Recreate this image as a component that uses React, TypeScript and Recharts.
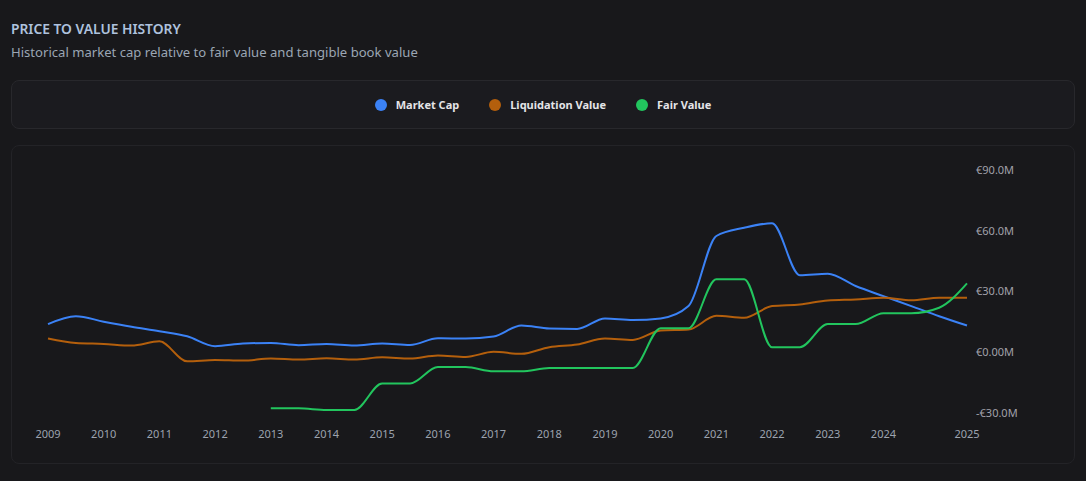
import { LineChart, Line, XAxis, YAxis } from "recharts";

// half-year periods, 2009 to 2025
const periods = [
  "H1 2009", "H2 2009", "H1 2010", "H2 2010", "H1 2011", "H2 2011",
  "H1 2012", "H2 2012", "H1 2013", "H2 2013", "H1 2014", "H2 2014",
  "H1 2015", "H2 2015", "H1 2016", "H2 2016", "H1 2017", "H2 2017",
  "H1 2018", "H2 2018", "H1 2019", "H2 2019", "H1 2020", "H2 2020",
  "H1 2021", "H2 2021", "H1 2022", "H2 2022", "H1 2023", "H2 2023",
  "H1 2024", "H2 2024", "H1 2025", "H2 2025",
];

const xTicks = [
  "H1 2009", "H1 2010", "H1 2011", "H1 2012", "H1 2013", "H1 2014",
  "H1 2015", "H1 2016", "H1 2017", "H1 2018", "H1 2019", "H1 2020",
  "H1 2021", "H1 2022", "H1 2023", "H1 2024", "H2 2025",
];
const xTickLabels = [
  "2009", "2010", "2011", "2012", "2013", "2014", "2015", "2016", "2017",
  "2018", "2019", "2020", "2021", "2022", "2023", "2024", "2025",
];

// values in € millions
const marketCap = [
  13.9, 17.8, 15.1, 12.6, 10.4, 7.9, 3.0, 4.3, 4.6, 3.5, 4.1, 3.3,
  4.3, 3.6, 6.9, 6.8, 7.8, 13.2, 11.7, 11.5, 16.7, 15.9, 16.7, 22.8,
  57.4, 61.5, 63.7, 38.0, 38.8, 32.7, 27.7, 22.8, 17.8, 13.2,
];
const liquidationValue = [
  6.8, 4.6, 4.1, 3.3, 5.4, -4.5, -3.8, -4.1, -3.1, -3.6, -3.0, -3.6,
  -2.5, -3.1, -1.6, -2.3, 0.2, -0.8, 2.5, 3.8, 6.8, 6.1, 10.7, 11.2,
  18.0, 17.0, 22.8, 23.6, 25.6, 26.1, 26.9, 25.7, 26.9, 26.9,
];
const fairValue = [
  null, null, null, null, null, null, null, null, -27.7, -27.7, -28.5, -28.5,
  -15.4, -15.4, -7.3, -7.3, -9.4, -9.4, -7.8, -7.8, -7.8, -7.8, 11.9, 11.9,
  36.0, 36.0, 2.5, 2.5, 13.9, 13.9, 19.3, 19.3, 22.0, 34.0,
];

const yTicks = [-30, 0, 30, 60, 90];

const series = [
  { key: "marketCap", name: "Market Cap", color: "#3b82f6" },
  { key: "liquidationValue", name: "Liquidation Value", color: "#b45f0c" },
  { key: "fairValue", name: "Fair Value", color: "#22c55e" },
];

const data = periods.map((period, i) => ({
  period,
  marketCap: marketCap[i],
  liquidationValue: liquidationValue[i],
  fairValue: fairValue[i],
}));

const formatEuro = (v: number) => {
  const s = v === 0 ? "0.00" : Math.abs(v).toFixed(1);
  return `${v < 0 ? "-" : ""}€${s}M`;
};

const font = "'Segoe UI', 'Noto Sans', 'Open Sans', sans-serif";

export default function App() {
  return (
    <div
      style={{
        position: "fixed",
        inset: 0,
        width: 1086,
        height: 481,
        background: "#18181b",
        fontFamily: font,
      }}
    >
      <div
        style={{
          position: "absolute",
          left: 11,
          top: 19,
          fontSize: 13.8,
          fontWeight: 600,
          color: "#aec2de",
        }}
      >
        PRICE TO VALUE HISTORY
      </div>
      <div
        style={{
          position: "absolute",
          left: 11,
          top: 43,
          fontSize: 13.1,
          color: "#9ba6b4",
        }}
      >
        Historical market cap relative to fair value and tangible book value
      </div>

      <div
        style={{
          position: "absolute",
          left: 11,
          top: 80,
          width: 1062,
          height: 47,
          border: "1px solid #28282c",
          borderRadius: 8,
          background: "#1b1b1f",
          display: "flex",
          justifyContent: "center",
          alignItems: "center",
          gap: 30,
        }}
      >
        {series.map((s) => (
          <div key={s.key} style={{ display: "flex", alignItems: "center" }}>
            <span
              style={{
                width: 12,
                height: 12,
                borderRadius: 6,
                background: s.color,
                marginRight: 9,
              }}
            />
            <span style={{ fontSize: 11, fontWeight: 700, color: "#e4e4e7" }}>
              {s.name}
            </span>
          </div>
        ))}
      </div>

      <div
        style={{
          position: "absolute",
          left: 11,
          top: 145,
          width: 1062,
          height: 317,
          border: "1px solid #232327",
          borderRadius: 8,
          background: "#18181b",
        }}
      >
        <LineChart
          width={1062}
          height={317}
          data={data}
          margin={{ top: 24, left: 36, right: 12, bottom: 20 }}
        >
          <XAxis
            dataKey="period"
            ticks={xTicks}
            interval={0}
            tickFormatter={(p: string) => xTickLabels[xTicks.indexOf(p)]}
            axisLine={false}
            tickLine={false}
            tickSize={0}
            tickMargin={17}
            height={30}
            tick={{ fill: "#9ca3af", fontSize: 11, fontFamily: font }}
          />
          <YAxis
            orientation="right"
            domain={[-30, 90]}
            ticks={yTicks}
            tickFormatter={formatEuro}
            axisLine={false}
            tickLine={false}
            tickSize={0}
            tickMargin={9}
            width={95}
            tick={{ fill: "#a1a1aa", fontSize: 11, fontFamily: font }}
          />
          {series.map((s) => (
            <Line
              key={s.key}
              type="monotone"
              dataKey={s.key}
              name={s.name}
              stroke={s.color}
              strokeWidth={2}
              dot={false}
              activeDot={false}
              isAnimationActive={false}
            />
          ))}
        </LineChart>
      </div>
    </div>
  );
}
